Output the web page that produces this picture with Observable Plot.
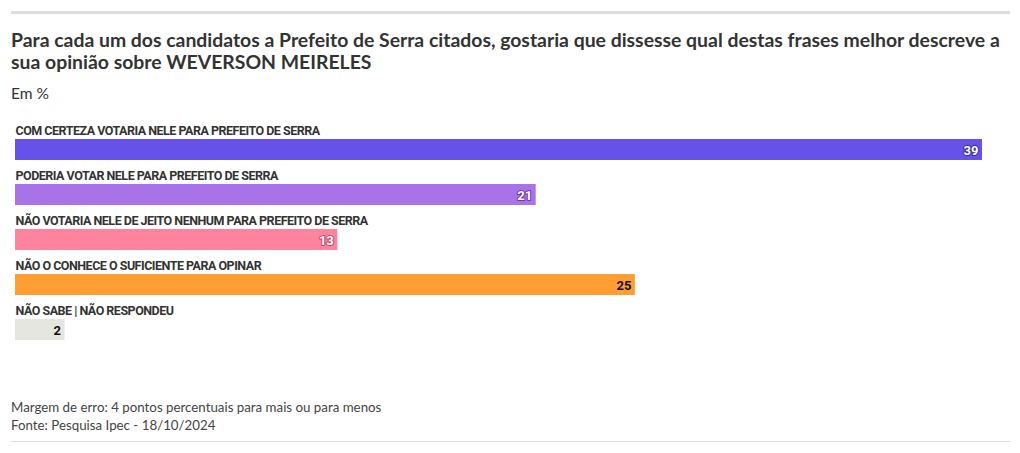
<!DOCTYPE html>
<html><head><meta charset="utf-8">
<script src="https://cdn.jsdelivr.net/npm/d3@7"></script>
<script src="https://cdn.jsdelivr.net/npm/@observablehq/plot@0.6"></script>
<style>
body{margin:0;background:#fff;font-family:Lato,"Noto Sans",sans-serif;color:#333;width:1020px;height:453px;overflow:hidden;position:relative}
#topline{position:absolute;left:11px;top:11px;width:999px;height:3px;background:#ddd}
#title{position:absolute;left:11px;top:29px;width:1000px;font-size:19.4px;font-weight:700;line-height:22px;color:#333;white-space:nowrap}
#sub{position:absolute;left:11px;top:84px;font-size:15.5px;color:#333}
#chart{position:absolute;left:0;top:110px}
#foot{position:absolute;left:11px;top:398px;font-size:13.3px;line-height:18px;color:#444}
#botline{position:absolute;left:11px;top:441px;width:999px;height:1px;background:#ddd}
</style></head><body>
<div id="topline"></div>
<div id="title">Para cada um dos candidatos a Prefeito de Serra citados, gostaria que dissesse qual destas frases melhor descreve a<br>sua opinião sobre WEVERSON MEIRELES</div>
<div id="sub">Em %</div>
<div id="chart"></div>
<div id="foot">Margem de erro: 4 pontos percentuais para mais ou para menos<br>Fonte: Pesquisa Ipec - 18/10/2024</div>
<div id="botline"></div>
<script>
const categories = [
  "COM CERTEZA VOTARIA NELE PARA PREFEITO DE SERRA",
  "PODERIA VOTAR NELE PARA PREFEITO DE SERRA",
  "NÃO VOTARIA NELE DE JEITO NENHUM PARA PREFEITO DE SERRA",
  "NÃO O CONHECE O SUFICIENTE PARA OPINAR",
  "NÃO SABE | NÃO RESPONDEU"
];
const values = [39, 21, 13, 25, 2];
const colors = ["#6652e8", "#a872e8", "#ff829e", "#ff9e32", "#e6e6e1"];
const labelColors = ["#fff", "#fff", "#fff", "#111", "#111"];
const haloColors = ["#3a2a9a", "#6a3aa8", "#c04a68", "#ff9e32", "#e6e6e1"];

const data = categories.map((c, i) => ({cat: c, v: values[i], color: colors[i], lc: labelColors[i], hc: haloColors[i]}));

const chart = Plot.plot({
  width: 1020,
  height: 240,
  marginLeft: 15,
  marginRight: 38,
  marginTop: 0,
  marginBottom: 0,
  style: {fontFamily: "Roboto, Lato, sans-serif", background: "transparent"},
  x: {domain: [0, 39], axis: null},
  y: {domain: categories, range: [29, 230], paddingInner: 24/45, paddingOuter: 0, axis: null},
  marks: [
    Plot.barX(data, {x: "v", y: "cat", fill: d => d.color}),
    Plot.text(data, {x: 0, y: "cat", text: "cat", textAnchor: "start", lineAnchor: "middle", dy: -19, fontSize: 12.5, fontWeight: 700, fill: "#333"}),
    Plot.text(data, {x: "v", y: "cat", text: d => String(d.v), textAnchor: "end", dx: -4, dy: 1, fontSize: 13, fontWeight: 700, fill: d => d.lc, stroke: d => d.hc, strokeWidth: 2})
  ]
});
d3.select(chart).selectAll("text")
  .filter(function() { return categories.includes(this.textContent); })
  .style("letter-spacing", "-0.5px");
document.getElementById("chart").append(chart);
</script>
</body></html>
